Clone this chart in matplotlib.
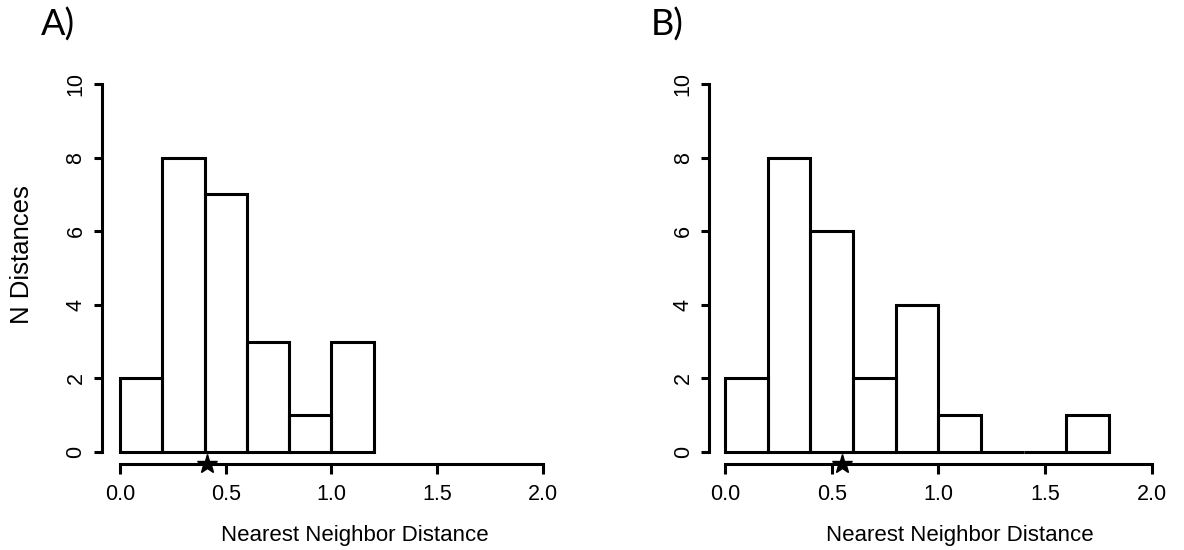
import matplotlib.pyplot as plt
import numpy as np

plt.rcParams["font.family"] = ["Liberation Sans", "DejaVu Sans"]

# -------------------------
# Histogram counts (bins of width 0.2 starting at 0)
# -------------------------
bin_width = 0.2
counts_a = [2, 8, 7, 3, 1, 3]
counts_b = [2, 8, 6, 2, 4, 1, 0, 0, 1]

# observed mean nearest neighbor distance (star on the axis)
observed_a = 0.41
observed_b = 0.55

panel_labels = ["A)", "B)"]
x_ticks = [0.0, 0.5, 1.0, 1.5, 2.0]
x_tick_labels = ["0.0", "0.5", "1.0", "1.5", "2.0"]
y_ticks = [0, 2, 4, 6, 8, 10]

W, H = 1184, 550
fig = plt.figure(figsize=(W / 100, H / 100), dpi=100)


def px_axes(left, bottom, right, top):
    return fig.add_axes([left / W, 1 - bottom / H, (right - left) / W, (bottom - top) / H])


def draw_panel(ax, counts, observed, xlim_left):
    edges = np.arange(len(counts)) * bin_width
    ax.bar(edges, counts, width=bin_width, align="edge", fill=False,
           edgecolor="black", linewidth=2.2, clip_on=False)
    ax.plot([observed], [-0.334], marker="*", color="black", markersize=15,
            clip_on=False, zorder=5)

    ax.set_xlim(xlim_left, 2.08)
    ax.set_ylim(-0.334, 10.4)
    for s in ["top", "right"]:
        ax.spines[s].set_visible(False)
    ax.spines["left"].set_bounds(0, 10)
    ax.spines["bottom"].set_bounds(0, 2)
    ax.spines["left"].set_linewidth(2.2)
    ax.spines["bottom"].set_linewidth(2.2)

    ax.set_xticks(x_ticks)
    ax.set_xticklabels(x_tick_labels)
    ax.set_yticks(y_ticks)
    ax.tick_params(axis="x", length=7.5, width=2.2, pad=7, labelsize=15.5)
    ax.tick_params(axis="y", length=6, width=2.2, pad=5, labelsize=15.5,
                   labelrotation=90)
    for lab in ax.get_yticklabels():
        lab.set_va("center")


# Panel A
ax_a = px_axes(101.7, 464.3, 559.5, 69.3)
draw_panel(ax_a, counts_a, observed_a, -0.087)

# Panel B
ax_b = px_axes(709, 464.3, 1168.7, 69.3)
draw_panel(ax_b, counts_b, observed_b, -0.075)

# Axis labels
fig.text(355 / W, 1 - 535 / H, "Nearest Neighbor Distance", fontsize=16,
         ha="center", va="center")
fig.text(960 / W, 1 - 535 / H, "Nearest Neighbor Distance", fontsize=16,
         ha="center", va="center")
fig.text(22 / W, 1 - 255 / H, "N Distances", fontsize=18.5, rotation=90,
         ha="center", va="center")

# Panel letters
fig.text(41 / W, 1 - 36 / H, panel_labels[0], fontsize=26, family="Lato",
         ha="left", va="baseline")
fig.text(651 / W, 1 - 36 / H, panel_labels[1], fontsize=26, family="Lato",
         ha="left", va="baseline")

fig.savefig("out.png", dpi=100, facecolor="white")
